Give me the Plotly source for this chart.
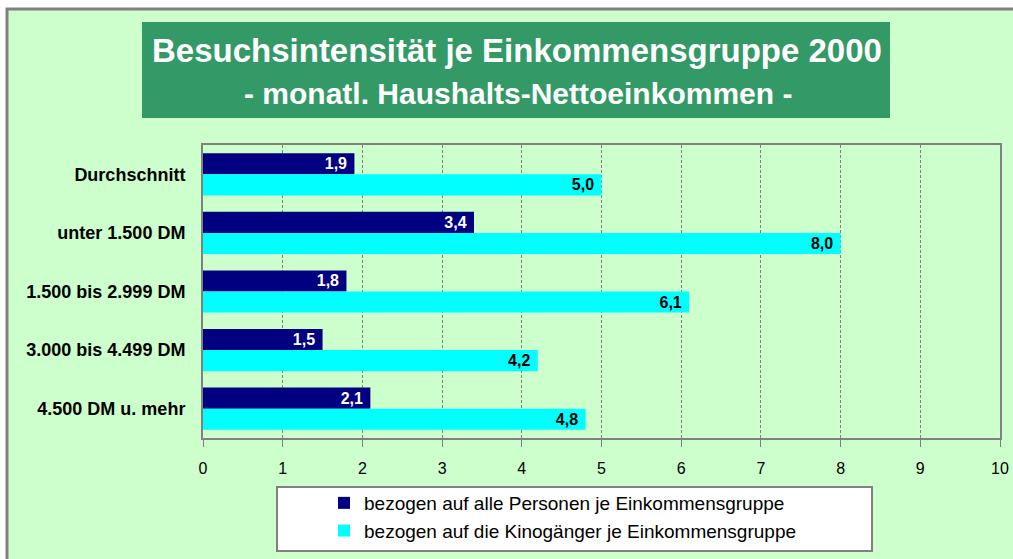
import plotly.graph_objects as go

categories = ["Durchschnitt", "unter 1.500 DM", "1.500 bis 2.999 DM",
              "3.000 bis 4.499 DM", "4.500 DM u. mehr"]
alle_personen = [1.9, 3.4, 1.8, 1.5, 2.1]
kinogaenger = [5.0, 8.0, 6.1, 4.2, 4.8]
x_ticks = list(range(0, 11))

name_alle = "bezogen auf alle Personen je Einkommensgruppe"
name_kino = "bezogen auf die Kinogänger je Einkommensgruppe"

FONT = "Liberation Sans, Arial, sans-serif"
W, H = 1013, 559
L, R, T, B = 203, 13, 145, 121
pw, ph = W - L - R, H - T - B


def px_x(px):
    return (px - L) / pw


def px_y(py):
    return (H - B - py) / ph


def fmt(v):
    # German decimal comma, small gap before the bar end
    return f"{v:.1f}".replace(".", ",") + "\u00a0"


fig = go.Figure()
fig.add_trace(go.Bar(
    y=categories, x=alle_personen, orientation="h", name=name_alle,
    marker=dict(color="#000080", line=dict(width=0)),
    text=[fmt(v) for v in alle_personen], textposition="inside",
    insidetextanchor="end", textangle=0, constraintext="none",
    textfont=dict(family=FONT, size=16, color="white", weight="bold"),
    legendgroup="a",
))
fig.add_trace(go.Bar(
    y=categories, x=kinogaenger, orientation="h", name=name_kino,
    marker=dict(color="#00FFFF", line=dict(width=0)),
    text=[fmt(v) for v in kinogaenger], textposition="inside",
    insidetextanchor="end", textangle=0, constraintext="none",
    textfont=dict(family=FONT, size=16, color="black", weight="bold"),
    legendgroup="b",
))

shapes = [
    # chart frame
    dict(type="rect", xref="paper", yref="paper",
         x0=px_x(7), x1=px_x(W + 10), y0=px_y(9), y1=px_y(H + 10),
         fillcolor="#CCFFCC", line=dict(color="#808080", width=3), layer="below"),
    # title box
    dict(type="rect", xref="paper", yref="paper",
         x0=px_x(142), x1=px_x(890), y0=px_y(22), y1=px_y(118),
         fillcolor="#339966", line=dict(width=0), layer="below"),
    # legend box
    dict(type="rect", xref="paper", yref="paper",
         x0=px_x(277), x1=px_x(872), y0=px_y(487), y1=px_y(551),
         fillcolor="white", line=dict(color="#808080", width=2), layer="below"),
]

annotations = [
    dict(text="<b>Besuchsintensität je Einkommensgruppe 2000</b>",
         xref="paper", yref="paper", x=px_x(517), y=px_y(50),
         showarrow=False, xanchor="center", yanchor="middle",
         font=dict(family=FONT, size=33, color="white")),
    dict(text="<b>- monatl. Haushalts-Nettoeinkommen -</b>",
         xref="paper", yref="paper", x=px_x(518), y=px_y(93),
         showarrow=False, xanchor="center", yanchor="middle",
         font=dict(family=FONT, size=30, color="white")),
]

fig.update_layout(
    width=W, height=H,
    margin=dict(l=L, r=R, t=T, b=B, autoexpand=False),
    paper_bgcolor="white",
    plot_bgcolor="#C0C0C0",
    barmode="group",
    bargap=0.28,
    bargroupgap=0,
    shapes=shapes,
    annotations=annotations,
    showlegend=True,
    legend=dict(
        x=px_x(324), y=px_y(484), xanchor="left", yanchor="top",
        bgcolor="rgba(0,0,0,0)", borderwidth=0,
        font=dict(family=FONT, size=19, color="black"),
        tracegroupgap=5, traceorder="normal",
    ),
    font=dict(family=FONT, color="black"),
)

fig.update_xaxes(
    range=[0, 10], tickvals=x_ticks, ticktext=[str(t) for t in x_ticks],
    showgrid=True, gridcolor="#808080", gridwidth=1, griddash="3px,2px",
    showline=True, linecolor="#808080", linewidth=2, mirror=True,
    ticks="outside", ticklen=7, tickcolor="#808080", tickwidth=1,
    ticklabelstandoff=8,
    tickfont=dict(family=FONT, size=16, color="black"),
    zeroline=False, fixedrange=True, automargin=False,
)
fig.update_yaxes(
    autorange="reversed", showgrid=False,
    showline=True, linecolor="#808080", linewidth=2, mirror=True,
    ticks="", ticklabelstandoff=12,
    tickfont=dict(family=FONT, size=18, color="black", weight="bold"),
    fixedrange=True, automargin=False,
)

fig.write_html("out.html")
